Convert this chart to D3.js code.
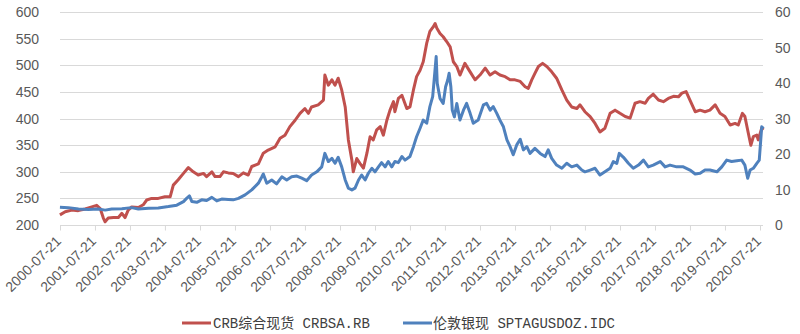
<!DOCTYPE html>
<html><head><meta charset="utf-8">
<script src="https://cdn.jsdelivr.net/npm/d3@7"></script>
<style>
body{margin:0;background:#fff;}
svg{display:block;}
</style></head>
<body>
<svg id="chart" width="800" height="334"></svg>
<script>
// ---- data (dates as decimal years) ----
const crbDates = [2000.55,2000.70,2000.89,2001.07,2001.27,2001.46,2001.60,2001.70,2001.79,2001.84,2001.93,2002.08,2002.22,2002.32,2002.41,2002.50,2002.60,2002.79,2002.93,2003.03,2003.17,2003.36,2003.55,2003.70,2003.79,2003.93,2004.08,2004.22,2004.36,2004.50,2004.65,2004.74,2004.89,2004.98,2005.12,2005.22,2005.36,2005.50,2005.65,2005.79,2005.93,2006.03,2006.22,2006.36,2006.50,2006.70,2006.84,2006.98,2007.12,2007.27,2007.41,2007.55,2007.65,2007.74,2007.93,2008.08,2008.12,2008.22,2008.32,2008.41,2008.50,2008.60,2008.70,2008.79,2008.89,2008.93,2009.03,2009.12,2009.22,2009.32,2009.41,2009.50,2009.60,2009.70,2009.79,2009.89,2009.98,2010.08,2010.12,2010.22,2010.32,2010.46,2010.55,2010.65,2010.74,2010.84,2010.93,2011.03,2011.12,2011.22,2011.27,2011.32,2011.41,2011.50,2011.60,2011.70,2011.79,2011.89,2011.98,2012.12,2012.27,2012.41,2012.55,2012.70,2012.84,2012.98,2013.12,2013.27,2013.41,2013.55,2013.70,2013.84,2013.93,2014.03,2014.12,2014.22,2014.34,2014.46,2014.60,2014.74,2014.89,2015.03,2015.17,2015.32,2015.41,2015.55,2015.70,2015.84,2015.98,2016.12,2016.27,2016.41,2016.55,2016.70,2016.84,2016.98,2017.12,2017.27,2017.36,2017.50,2017.65,2017.79,2017.93,2018.08,2018.22,2018.32,2018.44,2018.55,2018.70,2018.84,2018.98,2019.12,2019.27,2019.41,2019.55,2019.70,2019.84,2019.93,2020.05,2020.12,2020.22,2020.29,2020.36,2020.46,2020.50,2020.60,2020.65];
const crbValues = [219,225,228,227,230,234,237,231,213,206,213,214,214,222,214,228,234,233,238,247,250,250,253,253,275,285,297,308,300,294,297,291,300,291,291,300,298,297,291,298,294,310,315,335,341,347,363,369,385,397,410,419,410,422,426,435,482,463,473,463,476,454,422,360,322,300,325,316,307,335,366,360,379,385,369,397,416,432,413,438,444,419,422,454,479,491,507,542,564,573,579,570,560,554,545,535,507,498,482,504,488,473,482,495,482,488,482,479,473,473,470,460,457,473,485,498,504,498,488,476,454,435,422,419,426,413,404,391,375,382,410,416,410,404,401,429,432,429,438,446,435,432,438,442,441,448,451,435,413,416,413,416,426,410,404,388,391,388,410,404,372,350,366,369,360,382,379];

const agDates = [2000.55,2000.79,2001.08,2001.36,2001.65,2001.84,2002.03,2002.32,2002.60,2002.79,2003.08,2003.36,2003.65,2003.89,2004.08,2004.17,2004.25,2004.32,2004.46,2004.60,2004.74,2004.89,2005.03,2005.17,2005.36,2005.50,2005.65,2005.84,2006.03,2006.22,2006.32,2006.36,2006.46,2006.60,2006.74,2006.89,2007.03,2007.17,2007.32,2007.46,2007.60,2007.74,2007.89,2008.03,2008.12,2008.22,2008.32,2008.41,2008.50,2008.60,2008.70,2008.79,2008.89,2008.98,2009.08,2009.17,2009.27,2009.36,2009.46,2009.55,2009.65,2009.74,2009.84,2009.93,2010.03,2010.12,2010.22,2010.32,2010.41,2010.55,2010.65,2010.74,2010.84,2010.93,2011.03,2011.12,2011.20,2011.25,2011.30,2011.33,2011.41,2011.50,2011.57,2011.63,2011.67,2011.72,2011.76,2011.82,2011.89,2011.98,2012.08,2012.17,2012.27,2012.36,2012.50,2012.65,2012.74,2012.84,2012.93,2013.03,2013.12,2013.22,2013.32,2013.41,2013.50,2013.60,2013.70,2013.79,2013.89,2013.98,2014.12,2014.27,2014.41,2014.50,2014.60,2014.74,2014.89,2015.03,2015.17,2015.32,2015.46,2015.55,2015.70,2015.84,2015.98,2016.12,2016.27,2016.36,2016.46,2016.53,2016.65,2016.79,2016.93,2017.08,2017.22,2017.36,2017.50,2017.70,2017.84,2017.98,2018.17,2018.36,2018.55,2018.70,2018.84,2018.98,2019.12,2019.32,2019.46,2019.60,2019.74,2019.89,2020.03,2020.12,2020.20,2020.27,2020.36,2020.46,2020.53,2020.60,2020.65];
const agValues = [5.0,4.9,4.5,4.4,4.5,4.2,4.5,4.6,4.9,4.5,4.7,4.8,5.2,5.6,6.6,7.5,8.2,6.6,6.4,7.1,6.9,7.8,6.8,7.3,7.2,7.1,7.5,8.5,9.9,11.8,13.6,14.4,11.8,12.7,11.6,13.6,12.7,13.6,13.8,13.2,12.5,14.1,15.0,16.4,20.2,17.9,18.8,17.4,19.1,16.4,12.7,10.4,9.9,10.4,12.7,14.1,12.7,14.6,16.0,15.0,16.4,17.6,16.4,17.9,16.4,17.9,17.6,19.3,18.3,19.3,22.1,24.9,27.3,29.6,28.7,33.4,36.2,41.8,47.5,40.0,35.7,34.3,39.0,40.9,42.8,39.0,32.4,30.5,34.3,29.6,32.4,34.3,31.5,28.7,29.6,33.9,34.3,32.4,33.4,31.5,29.6,27.7,24.0,22.1,19.8,22.6,24.2,21.2,22.1,20.2,21.6,20.2,19.3,21.2,18.8,16.9,16.0,17.4,16.4,16.9,15.5,15.0,15.5,16.0,14.1,15.0,16.0,17.9,17.4,20.2,19.1,17.4,16.0,16.9,18.3,16.4,16.9,17.9,16.4,16.9,16.4,16.4,15.5,14.4,14.6,15.5,15.5,15.0,16.4,18.3,17.9,18.1,18.3,16.9,13.2,15.5,16.0,17.4,18.3,27.7,27.2];

const xTickLabels = ["2000-07-21","2001-07-21","2002-07-21","2003-07-21","2004-07-21","2005-07-21","2006-07-21","2007-07-21","2008-07-21","2009-07-21","2010-07-21","2011-07-21","2012-07-21","2013-07-21","2014-07-21","2015-07-21","2016-07-21","2017-07-21","2018-07-21","2019-07-21","2020-07-21"];
const leftTicks = [200,250,300,350,400,450,500,550,600];
const rightTicks = [0,10,20,30,40,50,60];
const seriesNames = ["CRB综合现货 CRBSA.RB","伦敦银现 SPTAGUSDOZ.IDC"];
const seriesColors = ["#C0504D","#4F81BD"];
const xDomain = ["2000-07-21","2020-08-21"];

// ---- helpers ----
function decToDate(t){
  const y = Math.floor(t);
  const start = new Date(y,0,1), end = new Date(y+1,0,1);
  return new Date(start.getTime() + (t-y)*(end-start));
}
const parse = d3.timeParse("%Y-%m-%d");

const svg = d3.select("#chart");
const m = {left:60, right:763, top:12.3, bottom:225};

const x = d3.scaleTime().domain(xDomain.map(parse)).range([m.left, m.right]);
const yL = d3.scaleLinear().domain([200,600]).range([m.bottom, m.top]);
const yR = d3.scaleLinear().domain([0,60]).range([m.bottom, m.top]);

const labelFont = "'Liberation Sans', Arial, sans-serif";
const labelColor = "#595959";

// gridlines
svg.append("g").selectAll("line").data(leftTicks.slice(1)).join("line")
  .attr("x1", m.left).attr("x2", m.right)
  .attr("y1", d=>Math.round(yL(d))+0.5).attr("y2", d=>Math.round(yL(d))+0.5)
  .attr("stroke", "#D9D9D9").attr("stroke-width", 1);

// bottom axis
const xTicks = xTickLabels.map(parse);
const xAxis = d3.axisBottom(x).tickValues(xTicks).tickSize(5).tickFormat("");
const gx = svg.append("g").attr("transform", `translate(0,${Math.round(m.bottom)+0.5})`).call(xAxis);
gx.select(".domain").attr("stroke","#D9D9D9").attr("d", `M${m.left},0H${m.right}`);
gx.selectAll(".tick line").attr("stroke","#D9D9D9");
svg.append("g").selectAll("text").data(xTicks).join("text")
  .attr("transform", (d)=>`translate(${x(d)+2},${m.bottom+17}) rotate(-45)`)
  .attr("text-anchor","end")
  .attr("font-family", labelFont).attr("font-size", 14).attr("fill", labelColor)
  .text((d,i)=>xTickLabels[i]);

// left axis labels
const gl = svg.append("g").attr("transform", `translate(${m.left},0)`)
  .call(d3.axisLeft(yL).tickValues(leftTicks).tickSize(0).tickPadding(21));
gl.select(".domain").remove();
gl.selectAll("text").attr("font-family", labelFont).attr("font-size", 14).attr("fill", labelColor);

// right axis labels
const gr = svg.append("g").attr("transform", `translate(${m.right},0)`)
  .call(d3.axisRight(yR).tickValues(rightTicks).tickSize(0).tickPadding(12));
gr.select(".domain").remove();
gr.selectAll("text").attr("font-family", labelFont).attr("font-size", 14).attr("fill", labelColor);

// lines
const crb = crbDates.map((t,i)=>({d:decToDate(t), v:crbValues[i]}));
const ag = agDates.map((t,i)=>({d:decToDate(t), v:agValues[i]}));
svg.append("path").datum(crb)
  .attr("fill","none").attr("stroke",seriesColors[0]).attr("stroke-width",3).attr("stroke-linejoin","round")
  .attr("d", d3.line().x(p=>x(p.d)).y(p=>yL(p.v)));
svg.append("path").datum(ag)
  .attr("fill","none").attr("stroke",seriesColors[1]).attr("stroke-width",3).attr("stroke-linejoin","round")
  .attr("d", d3.line().x(p=>x(p.d)).y(p=>yR(p.v)));

// legend
const legendFont = "'Liberation Mono', 'Noto Sans CJK SC', monospace";
const leg = [{x:182, tx:213}, {x:403, tx:433}];
leg.forEach((l,i)=>{
  svg.append("line").attr("x1", l.x).attr("x2", l.x+29).attr("y1", 323).attr("y2", 323)
    .attr("stroke", seriesColors[i]).attr("stroke-width", 3);
  svg.append("text").attr("x", l.tx).attr("y", 328)
    .attr("font-family", legendFont).attr("font-size", 14).attr("fill", "#404040")
    .text(seriesNames[i]);
});
</script>
</body></html>
